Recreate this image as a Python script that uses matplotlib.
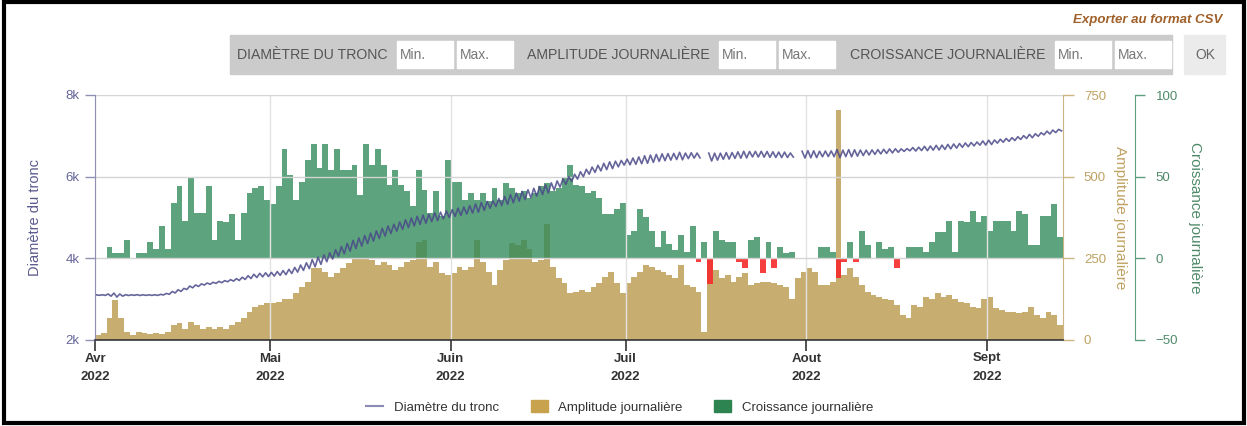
import numpy as np
import matplotlib
matplotlib.use('Agg')
import matplotlib.pyplot as plt
from matplotlib.patches import Rectangle, Patch
from matplotlib.lines import Line2D

plt.rcParams['font.family'] = ['Liberation Sans', 'DejaVu Sans']

# --- data (one value per day, 1 Apr 2022 -> 13 Sept 2022) ---
jours = np.arange(166)

amplitude = [
    15, 20, 67, 122, 67, 26, 15, 25, 20, 18,
    20, 18, 25, 46, 51, 35, 55, 46, 35, 40,
    35, 40, 35, 46, 55, 67, 87, 102, 107, 112,
    112, 117, 127, 127, 143, 163, 178, 219, 221, 209,
    194, 204, 219, 235, 250, 250, 250, 245, 230, 240,
    230, 214, 224, 240, 245, 300, 306, 224, 240, 204,
    199, 204, 224, 214, 224, 306, 240, 209, 168, 214,
    245, 296, 290, 306, 280, 240, 245, 355, 224, 189,
    173, 143, 148, 153, 148, 163, 173, 194, 209, 173,
    143, 173, 194, 209, 230, 224, 214, 209, 199, 189,
    230, 168, 163, 148, 25, 245, 214, 189, 199, 178,
    194, 204, 168, 173, 178, 178, 173, 168, 163, 127,
    189, 209, 219, 209, 168, 168, 178, 704, 199, 219,
    194, 168, 148, 138, 133, 127, 122, 107, 77, 66,
    107, 102, 133, 127, 143, 133, 138, 127, 117, 112,
    102, 97, 127, 133, 97, 92, 87, 87, 82, 87,
    102, 77, 66, 87, 77, 46,
]

croissance = [
    0, 0, 7, 3, 3, 11, 0, 3, 3, 10,
    6, 20, 6, 34, 44, 23, 50, 28, 28, 44,
    11, 23, 22, 27, 11, 28, 40, 43, 44, 36,
    33, 44, 67, 51, 36, 47, 60, 70, 55, 70,
    54, 67, 54, 54, 57, 39, 70, 57, 67, 57,
    45, 54, 45, 41, 32, 54, 42, 28, 41, 26,
    60, 47, 47, 36, 40, 36, 40, 35, 43, 36,
    46, 43, 40, 41, 37, 40, 44, 46, 41, 43,
    49, 57, 45, 44, 40, 41, 37, 27, 27, 30,
    34, 14, 17, 30, 25, 17, 7, 17, 9, 5,
    14, 4, 20, -2, 10, -16, 17, 11, 10, 10,
    -2, -6, 11, 13, -9, 10, -6, 7, 3, 4,
    0, 0, 0, 0, 7, 7, 4, -12, -2, 10,
    -2, 17, 8, 0, 10, 6, 7, -6, 0, 7,
    7, 7, 4, 10, 16, 16, 23, 4, 23, 22,
    29, 22, 26, 17, 23, 23, 23, 17, 29, 27,
    8, 8, 26, 26, 33, 13,
]

diametre = [
    3100, 3100, 3100, 3100, 3100, 3100, 3100, 3100, 3100, 3100,
    3100, 3110, 3130, 3170, 3210, 3250, 3300, 3330, 3360, 3380,
    3400, 3420, 3440, 3460, 3480, 3510, 3540, 3570, 3590, 3600,
    3610, 3630, 3650, 3680, 3720, 3770, 3820, 3880, 3940, 4000,
    4060, 4130, 4200, 4270, 4340, 4400, 4460, 4520, 4580, 4640,
    4700, 4750, 4800, 4850, 4890, 4930, 4960, 4990, 5020, 5050,
    5080, 5110, 5140, 5170, 5200, 5230, 5270, 5310, 5340, 5380,
    5420, 5460, 5500, 5540, 5580, 5620, 5660, 5700, 5760, 5820,
    5880, 5940, 6000, 6060, 6120, 6170, 6210, 6250, 6280, 6310,
    6340, 6360, 6380, 6400, 6420, 6440, 6460, 6475, 6485, 6495,
    6505, 6510, 6520, 6520, np.nan, 6480, 6490, 6500, 6510, 6520,
    6530, 6540, 6550, 6550, 6550, 6545, 6540, 6535, 6535, 6530,
    np.nan, 6540, 6550, 6550, 6555, 6560, 6560, 6565, 6570, 6575,
    6580, 6585, 6590, 6600, 6610, 6620, 6630, 6640, 6650, 6660,
    6670, 6680, 6690, 6700, 6710, 6720, 6735, 6750, 6765, 6780,
    6795, 6810, 6825, 6840, 6860, 6880, 6900, 6920, 6945, 6970,
    6995, 7020, 7050, 7080, 7110, 7140,
]

mois = [0, 30, 61, 91, 122, 153]
mois_labels = ['Avr\n2022', 'Mai\n2022', 'Juin\n2022', 'Juil\n2022', 'Aout\n2022', 'Sept\n2022']

# colours
c_diam = '#4a4a8a'
c_ampl = '#bf9f58'
c_crois = '#2f8a58'
c_neg = '#f52a2a'

W, H = 1247, 426
fig = plt.figure(figsize=(W / 100, H / 100), dpi=100)
fig.patch.set_facecolor('white')


def fx(px):
    return px / W


def fy(py):
    return 1 - py / H


ax = fig.add_axes([fx(95), fy(340), fx(1063) - fx(95), fy(95) - fy(340)])
ax2 = ax.twinx()   # amplitude
ax3 = ax.twinx()   # croissance
ax.set_zorder(3)
ax3.set_zorder(2)
ax2.set_zorder(1)
for a in (ax, ax2, ax3):
    a.patch.set_visible(False)

bords = np.arange(len(jours) + 1)

# amplitude bars (drawn as one step area so the days touch)
ax2.stairs(amplitude, bords, fill=True, color=c_ampl, alpha=0.85, linewidth=0)
ax2.set_ylim(0, 750)

# daily growth: green above zero, red below
crois = np.array(croissance, dtype=float)
ax3.stairs(np.maximum(crois, 0), bords, fill=True, color=c_crois, alpha=0.78, linewidth=0)
ax3.stairs(np.minimum(crois, 0), bords, fill=True, color=c_neg, alpha=0.9, linewidth=0)
ax3.set_ylim(-50, 100)

# trunk diameter: daily high in the morning, low in the afternoon
# (swing taken from the daily amplitude, the early-August spike left out)
diam = np.array(diametre, dtype=float)
swing = np.minimum(np.array(amplitude, dtype=float), 250) * 0.8
t = np.column_stack([jours + 0.25, jours + 0.75]).ravel()
v = np.column_stack([diam + swing / 2, diam - swing / 2]).ravel()
ax.plot(t, v, color=c_diam, lw=1.2, alpha=0.85)
ax.set_ylim(2000, 8000)
ax.set_xlim(0, 166)

# left axis
ax.set_yticks([2000, 4000, 6000, 8000], ['2k', '4k', '6k', '8k'])
ax.tick_params(axis='y', colors='#8f8fb5', labelcolor='#66669a', length=7, width=1,
               labelsize=9.5, pad=4)
ax.set_xticks(mois, mois_labels)
ax.tick_params(axis='x', colors='#333333', labelcolor='#333333', length=8, width=1.2,
               labelsize=9.5, pad=1)
for lbl in ax.get_xticklabels():
    lbl.set_fontweight('bold')
    lbl.set_linespacing(1.7)
ax.grid(axis='y', color='#d4d4d4', lw=1)
ax.grid(axis='x', color='#e2e2e2', lw=1)
ax.spines['left'].set_color('#8f8fb5')
ax.spines['bottom'].set_color('#333333')
ax.spines['bottom'].set_linewidth(1.2)
ax.spines['top'].set_visible(False)
ax.spines['right'].set_visible(False)
ax.set_ylabel('Diamètre du tronc', color='#5a5a8c', fontsize=10.5)
ax.yaxis.set_label_coords((42 - 95) / 968, 0.5)

# amplitude axis
for s in ('left', 'top', 'bottom'):
    ax2.spines[s].set_visible(False)
ax2.spines['right'].set_color('#cdb583')
ax2.set_yticks([0, 250, 500, 750])
ax2.tick_params(axis='y', colors='#cdb583', labelcolor='#bfa262', length=8, width=1,
                labelsize=9.5, pad=7)
ax2.set_ylabel('Amplitude journalière', color='#bfa262', fontsize=11, rotation=270,
               va='center', ha='center')
ax2.yaxis.set_label_coords((1120 - 95) / 968, 0.5)

# growth axis
for s in ('left', 'top', 'bottom'):
    ax3.spines[s].set_visible(False)
ax3.spines['right'].set_position(('axes', (1135 - 95) / 968))
ax3.spines['right'].set_color('#5f9f80')
ax3.set_yticks([-50, 0, 50, 100])
ax3.tick_params(axis='y', colors='#5f9f80', labelcolor='#4f8a6a', length=7, width=1,
                labelsize=9.5, pad=8)
ax3.set_ylabel('Croissance journalière', color='#4f8a6a', fontsize=11, rotation=270,
               va='center', ha='center')
ax3.yaxis.set_label_coords((1195 - 95) / 968, 0.5)

# legend
handles = [Line2D([], [], color='#8b8bb3', lw=1.5),
           Patch(color='#c8a24c'),
           Patch(color='#2e8450')]
labels = ['Diamètre du tronc', 'Amplitude journalière', 'Croissance journalière']
leg = fig.legend(handles, labels, loc='center', bbox_to_anchor=(0.497, fy(407)), ncol=3,
                 frameon=False, fontsize=9.5, handlelength=1.3, handleheight=1.0,
                 columnspacing=2.4, handletextpad=0.8)
for txt in leg.get_texts():
    txt.set_color('#333333')

# filter bar at the top
narrow = ['Liberation Sans Narrow', 'Liberation Sans', 'DejaVu Sans']
fig.patches.append(Rectangle((fx(230), fy(74)), fx(1172) - fx(230), fy(35) - fy(74),
                             transform=fig.transFigure, color='#cbcbcb', zorder=0))
champs = [('DIAMÈTRE DU TRONC', 237, [397, 457]),
          ('AMPLITUDE JOURNALIÈRE', 527, [719, 779]),
          ('CROISSANCE JOURNALIÈRE', 850, [1055, 1115])]
for titre, x0, boites in champs:
    fig.text(fx(x0), fy(55), titre, ha='left', va='center', fontsize=10.2, color='#555555',
             family=narrow)
    for bx, txt in zip(boites, ['Min.', 'Max.']):
        fig.patches.append(Rectangle((fx(bx), fy(68)), fx(56), 27 / H,
                                     transform=fig.transFigure, color='white', zorder=1))
        fig.text(fx(bx + 3), fy(55), txt, ha='left', va='center', fontsize=10, color='#777777',
                 family=narrow)
fig.patches.append(Rectangle((fx(1184), fy(74)), fx(41), 39 / H,
                             transform=fig.transFigure, color='#ebebeb', zorder=0))
fig.text(fx(1205), fy(55), 'OK', ha='center', va='center', fontsize=10, color='#666666',
         family=narrow)
fig.text(fx(1222), fy(20), 'Exporter au format CSV', ha='right', va='center', fontsize=9.5,
         color='#a0602a', style='italic', weight='bold', family=narrow)

# black frame round the whole picture
fig.patches.append(Rectangle((fx(4), fy(423)), fx(1240), 421 / H, transform=fig.transFigure,
                             fill=False, ec='black', lw=3, zorder=10))

fig.savefig('out.png', dpi=100)
